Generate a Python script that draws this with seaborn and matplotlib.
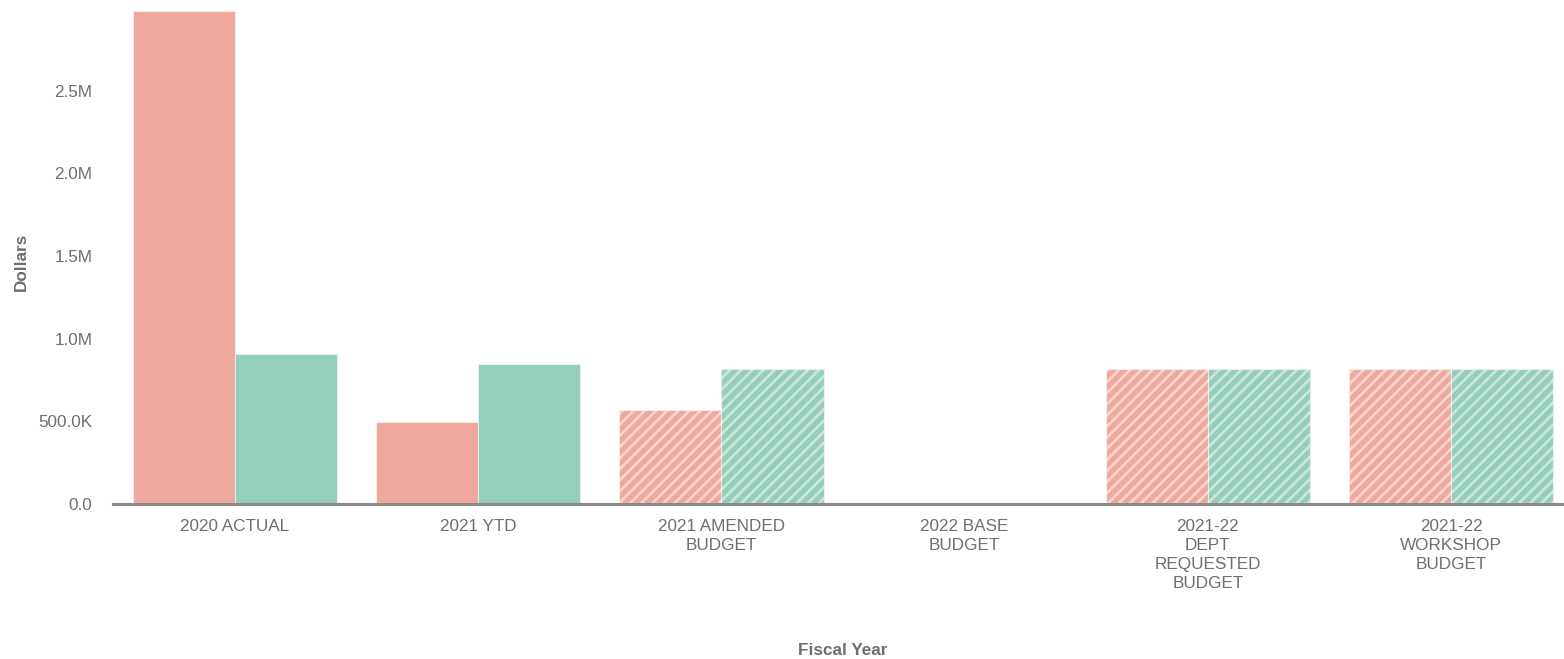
import matplotlib
matplotlib.use("Agg")
import matplotlib.pyplot as plt
import seaborn as sns
import pandas as pd
from matplotlib.ticker import FuncFormatter, FixedLocator

# Fiscal year groups and the two series plotted for each
categories = [
    "2020 ACTUAL",
    "2021 YTD",
    "2021 AMENDED\nBUDGET",
    "2022 BASE\nBUDGET",
    "2021-22\nDEPT\nREQUESTED\nBUDGET",
    "2021-22\nWORKSHOP\nBUDGET",
]
series_names = ["Expenditures", "Revenues"]
expenditures = [2980000, 496000, 569000, 0, 817000, 817000]
revenues = [907000, 847000, 817000, 0, 817000, 817000]
# Groups that are budgets / projections get a hatched fill
projected = [False, False, True, True, True, True]

y_ticks = [0, 500000, 1000000, 1500000, 2000000, 2500000]

df = pd.DataFrame({
    "Fiscal Year": categories * 2,
    "Dollars": expenditures + revenues,
    "Series": [series_names[0]] * len(categories) + [series_names[1]] * len(categories),
})

palette = {series_names[0]: "#EFA99C", series_names[1]: "#95CEB9"}
text_color = "#6E6E6E"
font_size = 12.3

sns.set_style("white")
plt.rcParams["font.family"] = ["Liberation Sans", "DejaVu Sans"]
plt.rcParams["hatch.linewidth"] = 2.0

fig = plt.figure(figsize=(15.64, 6.59), dpi=100)
ax = fig.add_axes([113.4 / 1564, 1 - 504 / 659, (1572.6 - 113.4) / 1564, (504 - 8) / 659])

sns.barplot(
    data=df, x="Fiscal Year", y="Dollars", hue="Series",
    order=categories, hue_order=series_names, palette=palette,
    width=0.84, dodge=True, saturation=1, legend=False, ax=ax,
)

for patch in ax.patches:
    cx = patch.get_x() + patch.get_width() / 2
    idx = int(round(cx))
    patch.set_edgecolor((1, 1, 1, 0.5))
    patch.set_linewidth(0.8)
    if 0 <= idx < len(projected) and projected[idx]:
        patch.set_hatch("///")

ax.set_xlim(-0.5, len(categories) - 0.5)
ax.set_ylim(0, 3000000)

def fmt(v, _):
    if v == 0:
        return "0.0"
    if v >= 1e6:
        return f"{v / 1e6:.1f}M"
    return f"{v / 1e3:.1f}K"

ax.yaxis.set_major_locator(FixedLocator(y_ticks))
ax.yaxis.set_major_formatter(FuncFormatter(fmt))

for side in ["left", "right", "top"]:
    ax.spines[side].set_visible(False)
ax.spines["bottom"].set_color("#8A8A8A")
ax.spines["bottom"].set_linewidth(2.2)

ax.tick_params(axis="both", length=0, colors=text_color, labelsize=font_size)
ax.tick_params(axis="y", pad=15)
ax.tick_params(axis="x", pad=11)
for lbl in ax.get_xticklabels():
    lbl.set_linespacing(1.32)

ax.set_xlabel("Fiscal Year", fontsize=font_size, fontweight="bold", color=text_color)
ax.xaxis.label.set_va("center")
ax.xaxis.set_label_coords(0.5, -0.296)
ax.set_ylabel("Dollars", fontsize=font_size, fontweight="bold", color=text_color)
ax.yaxis.label.set_va("center")
ax.yaxis.set_label_coords(-0.063, 0.488)

fig.savefig("out.png", dpi=100, facecolor="white")
